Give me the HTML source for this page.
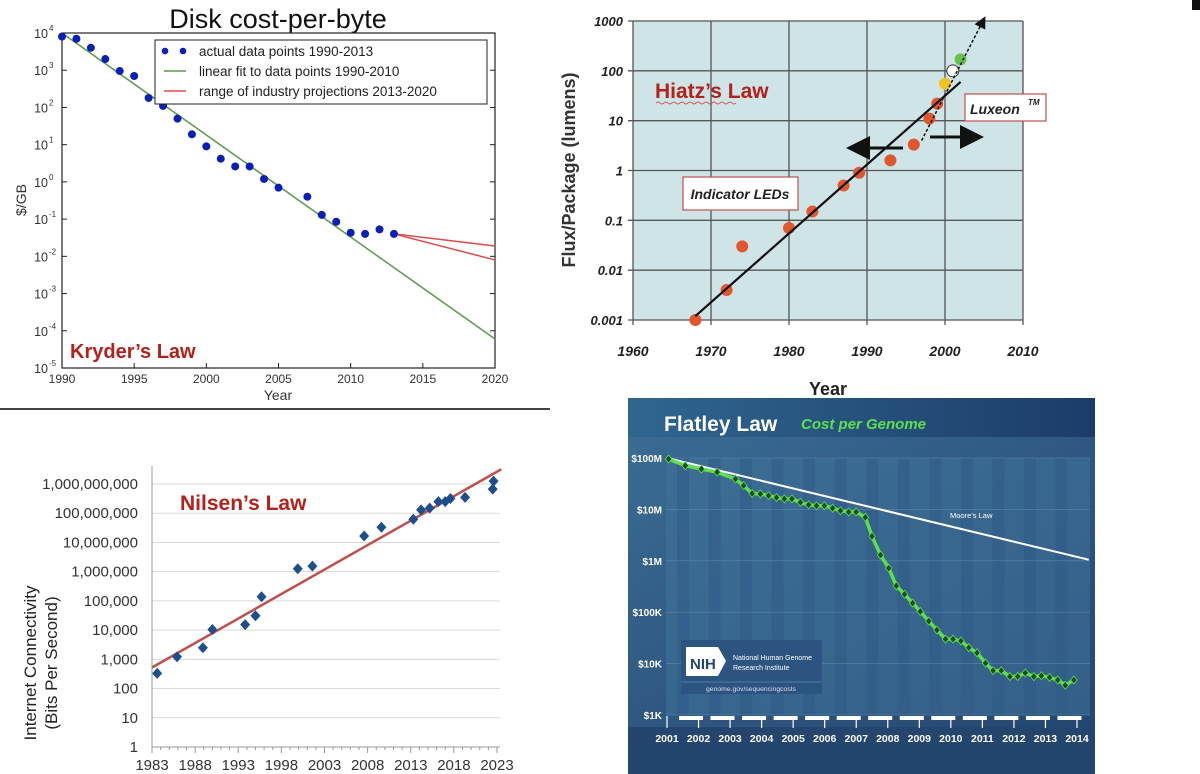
<!DOCTYPE html>
<html><head><meta charset="utf-8">
<style>
html,body{margin:0;padding:0;background:#fff;}
svg{display:block;font-family:"Liberation Sans",sans-serif;}
</style></head>
<body>
<svg id="root" width="1200" height="774" viewBox="0 0 1200 774" xmlns="http://www.w3.org/2000/svg">
  <defs>
    <linearGradient id="flatBg" x1="0" y1="0" x2="1" y2="1">
      <stop offset="0" stop-color="#3a6b93"/><stop offset="1" stop-color="#24466f"/>
    </linearGradient>
    <linearGradient id="flatHead" x1="0" y1="0" x2="1" y2="0">
      <stop offset="0" stop-color="#2f6690"/><stop offset="1" stop-color="#1c3c68"/>
    </linearGradient>
    <marker id="arrowHead" markerWidth="8" markerHeight="8" refX="6" refY="4" orient="auto"><path d="M0,0 L8,4 L0,8 Z" fill="#111"/></marker>
  </defs>
  <line x1="0" y1="409" x2="550" y2="409" stroke="#444" stroke-width="2"/>
  <g id="kryder"></g>
  <g id="hiatz"></g>
  <g id="nilsen"></g>
  <g id="flatley"></g>
</svg>
<script>
// ---------- Kryder data ----------
const kryderYears = [1990,1991,1992,1993,1994,1995,1996,1997,1998,1999,2000,2001,2002,2003,2004,2005,2007,2008,2009,2010,2011,2012,2013];
const kryderValues = [8000,7000,4000,2000,950,700,180,110,50,19,9,4.2,2.6,2.6,1.2,0.7,0.4,0.13,0.085,0.043,0.04,0.053,0.04];
const kryderFitYears = [1990,2020];
const kryderFitValues = [10000,0.00006];
const kryderProjYears = [2013,2020];
const kryderProjHigh = [0.04,0.019];
const kryderProjLow = [0.04,0.008];
const kryderXTicks = [1990,1995,2000,2005,2010,2015,2020];
const kryderYTicks = [4,3,2,1,0,-1,-2,-3,-4,-5];

// ---------- Hiatz data ----------
const hiatzYears = [1968,1972,1974,1980,1983,1987,1989,1993,1996,1998,1999];
const hiatzValues = [0.001,0.004,0.03,0.07,0.15,0.5,0.9,1.6,3.3,11,22];
const hiatzSpecialYears = [2000,2001,2002];
const hiatzSpecialValues = [55,100,170];
const hiatzFitYears = [1968,2002];
const hiatzFitValues = [0.0012,60];
const hiatzDashYears = [1997,2005];
const hiatzDashValues = [4,1100];
const hiatzXTicks = [1960,1970,1980,1990,2000,2010];
const hiatzYTicks = ["1000","100","10","1","0.1","0.01","0.001"];

// ---------- Nilsen data ----------
const nilsenYears = [1983.6,1985.9,1988.9,1990,1993.8,1995,1995.7,1999.9,2001.6,2007.6,2009.6,2013.3,2014.2,2015.2,2016.2,2017,2017.6,2019.3,2022.5,2022.6];
const nilsenValues = [330,1230,2500,10500,15400,31000,138000,1260000,1550000,16600000,33000000,62000000,130000000,150000000,250000000,250000000,320000000,350000000,670000000,1260000000];
const nilsenFitYears = [1983,2023.5];
const nilsenFitValues = [525,3200000000];
const nilsenXTicks = [1983,1988,1993,1998,2003,2008,2013,2018,2023];
const nilsenYTicks = ["1","10","100","1,000","10,000","100,000","1,000,000","10,000,000","100,000,000","1,000,000,000"];

// ---------- Flatley data ----------
const flatleyYears = [2001.05,2001.58,2002.09,2002.59,2003.17,2003.43,2003.70,2003.96,2004.22,2004.47,2004.72,2004.96,2005.23,2005.49,2005.74,2005.99,2006.25,2006.50,2006.76,2007.00,2007.29,2007.50,2007.77,2008.03,2008.27,2008.53,2008.79,2009.03,2009.30,2009.56,2009.83,2010.07,2010.32,2010.57,2010.83,2011.10,2011.34,2011.60,2011.87,2012.12,2012.36,2012.63,2012.87,2013.13,2013.39,2013.63,2013.90];
const flatleyValues = [95e6,71e6,61e6,53e6,39e6,29e6,20.4e6,20e6,18.5e6,17e6,16e6,16e6,13.7e6,12.3e6,11.8e6,11.8e6,10.6e6,9.4e6,8.9e6,8.9e6,7.0e6,3.0e6,1.3e6,720e3,325e3,224e3,150e3,103e3,67e3,45e3,30e3,30e3,27.7e3,20.4e3,16.3e3,10.2e3,7.3e3,7.3e3,5.6e3,5.6e3,6.6e3,5.6e3,5.8e3,5.4e3,4.8e3,3.8e3,4.8e3];
const mooreYears = [2001,2014.37];
const mooreValues = [100e6,1.05e6];
const flatleyXTicks = [2001,2002,2003,2004,2005,2006,2007,2008,2009,2010,2011,2012,2013,2014];
const flatleyYTicks = ["$1K","$10K","$100K","$1M","$10M","$100M"];

const NS="http://www.w3.org/2000/svg";
function mk(parent,tag,attrs,text){const e=document.createElementNS(NS,tag);for(const k in attrs)e.setAttribute(k,attrs[k]);if(text!==undefined)e.textContent=text;parent.appendChild(e);return e;}
function logScale(lo,hi,p0,p1){return v=>p0+(Math.log10(v)-lo)/(hi-lo)*(p1-p0);}
function linScale(d0,d1,p0,p1){return v=>p0+(v-d0)/(d1-d0)*(p1-p0);}

// ================= KRYDER =================
(function(){
const g=document.getElementById('kryder');
const x=linScale(1990,2020,62,495), y=logScale(-5,4,368,33);
let t=mk(g,'text',{x:278,y:28,'font-size':27,'text-anchor':'middle',fill:'#111'},'Disk cost-per-byte');


let r=mk(g,'rect',{x:62,y:33,width:433,height:335,fill:'#fff',stroke:'#222','stroke-width':1.2});


kryderYTicks.forEach(p=>{
  const yy=y(Math.pow(10,p));
  mk(g,'line',{x1:62,y1:yy,x2:67,y2:yy,stroke:'#222'});mk(g,'line',{x1:490,y1:yy,x2:495,y2:yy,stroke:'#222'});
  const tx=mk(g,'text',{x:48,y:yy+5,'font-size':12.5,'text-anchor':'end',fill:'#333'},'10');
  
  
  mk(g,'text',{x:49,y:yy-2,'font-size':8,fill:'#333'},String(p));
});
kryderXTicks.forEach(v=>{
  const xx=x(v);
  mk(g,'line',{x1:xx,y1:368,x2:xx,y2:363,stroke:'#222'});
  const tx=mk(g,'text',{x:xx,y:383,'font-size':12,'text-anchor':'middle',fill:'#333'},String(v));
  
  
});
t=mk(g,'text',{x:278,y:400,'font-size':14,'text-anchor':'middle',fill:'#333'},'Year');


t=mk(g,'text',{x:0,y:0,'font-size':14,'text-anchor':'middle',fill:'#333',transform:'translate(26,200) rotate(-90)'},'$/GB');


let fit=mk(g,'line',{x1:x(kryderFitYears[0]),y1:y(kryderFitValues[0]),x2:x(kryderFitYears[1]),y2:y(kryderFitValues[1]),stroke:'#5a9a4e','stroke-width':1.5});


[kryderProjHigh,kryderProjLow].forEach(arr=>{
  const l=mk(g,'line',{x1:x(kryderProjYears[0]),y1:y(arr[0]),x2:x(kryderProjYears[1]),y2:y(arr[1]),stroke:'#e04a4a','stroke-width':1.5});
  
  
});
kryderYears.forEach((yr,i)=>{
  const c=mk(g,'circle',{cx:x(yr),cy:y(kryderValues[i]),r:4,fill:'#0a1fb5'});
  
  
});
const lg=mk(g,'g',{});


mk(lg,'rect',{x:155,y:40,width:332,height:64,fill:'#fff',stroke:'#222','stroke-width':1});
mk(lg,'circle',{cx:165,cy:51,r:3.3,fill:'#0a1fb5'});mk(lg,'circle',{cx:183,cy:51,r:3.3,fill:'#0a1fb5'});
mk(lg,'line',{x1:164,y1:71,x2:186,y2:71,stroke:'#5a9a4e','stroke-width':1.5});
mk(lg,'line',{x1:164,y1:91,x2:186,y2:91,stroke:'#e04a4a','stroke-width':1.5});
['actual data points 1990-2013','linear fit to data points 1990-2010','range of industry projections 2013-2020'].forEach((s,i)=>{
  const tx=mk(lg,'text',{x:199,y:56+i*20,'font-size':13.5,fill:'#222'},s);
  
  
});
t=mk(g,'text',{x:70,y:358,'font-size':20,'font-weight':'bold',fill:'#b5201a'},'Kryder’s Law');


})();

// ================= HIATZ =================
(function(){
const g=document.getElementById('hiatz');
const x=linScale(1960,2010,633,1023), y=logScale(-3,3,320,21);
let r=mk(g,'rect',{x:633,y:21,width:390,height:299,fill:'#cfe4e7'});


hiatzYTicks.forEach(s=>{
  const yy=y(parseFloat(s));
  mk(g,'line',{x1:628,y1:yy,x2:1023,y2:yy,stroke:'#555','stroke-width':1.3});
  const tx=mk(g,'text',{x:623,y:yy+5,'font-size':13,'font-weight':'bold','font-style':'italic','text-anchor':'end',fill:'#222'},s);
  
  
});
hiatzXTicks.forEach(v=>{
  const xx=x(v);
  mk(g,'line',{x1:xx,y1:21,x2:xx,y2:325,stroke:'#555','stroke-width':1.3});
  const tx=mk(g,'text',{x:xx,y:356,'font-size':14,'font-weight':'bold','font-style':'italic','text-anchor':'middle',fill:'#222'},String(v));
  
  
});
let t=mk(g,'text',{x:828,y:395,'font-size':18,'font-weight':'bold','text-anchor':'middle',fill:'#222'},'Year');


t=mk(g,'text',{x:0,y:0,'font-size':18,'font-weight':'bold','text-anchor':'middle',fill:'#333',transform:'translate(575,170) rotate(-90)'},'Flux/Package (lumens)');


hiatzYears.forEach((yr,i)=>{
  const c=mk(g,'circle',{cx:x(yr),cy:y(hiatzValues[i]),r:6,fill:'#e0572f'});
  
  
});
const sc=['#f2c21c','#ffffff','#6bbf4e'];
hiatzSpecialYears.forEach((yr,i)=>{
  const c=mk(g,'circle',{cx:x(yr),cy:y(hiatzSpecialValues[i]),r:6,fill:sc[i],stroke:i==1?'#333':'none'});
  
  
});
let l=mk(g,'line',{x1:x(hiatzFitYears[0]),y1:y(hiatzFitValues[0]),x2:x(hiatzFitYears[1]),y2:y(hiatzFitValues[1]),stroke:'#111','stroke-width':2.2});


l=mk(g,'line',{x1:x(hiatzDashYears[0]),y1:y(hiatzDashValues[0]),x2:x(hiatzDashYears[1]),y2:y(hiatzDashValues[1]),stroke:'#111','stroke-width':1.5,'stroke-dasharray':'3,2','marker-end':'url(#arrowHead)'});


l=mk(g,'line',{x1:903,y1:148,x2:852,y2:148,stroke:'#111','stroke-width':3,'marker-end':'url(#arrowHead)'});


l=mk(g,'line',{x1:930,y1:137,x2:978,y2:137,stroke:'#111','stroke-width':3,'marker-end':'url(#arrowHead)'});


t=mk(g,'text',{x:655,y:98,'font-size':21,'font-weight':'bold',fill:'#b5201a'},'Hiatz’s Law');


mk(g,'path',{d:'M656,103 q2,-2 4,0 t4,0 t4,0 t4,0 t4,0 t4,0 t4,0 t4,0 t4,0 t4,0 t4,0 t4,0 t4,0 t4,0 t4,0 t4,0 t4,0 t4,0 t4,0 t4,0',fill:'none',stroke:'#d33','stroke-width':0.8});
r=mk(g,'rect',{x:683,y:177,width:115,height:33,fill:'#fff',stroke:'#c0504d','stroke-width':1.2});
t=mk(g,'text',{x:740,y:199,'font-size':14,'font-weight':'bold','font-style':'italic','text-anchor':'middle',fill:'#222'},'Indicator LEDs');


r=mk(g,'rect',{x:965,y:94,width:81,height:27,fill:'#fff',stroke:'#c0504d','stroke-width':1.2});
t=mk(g,'text',{x:970,y:114,'font-size':14,'font-weight':'bold','font-style':'italic',fill:'#222'},'Luxeon');


mk(g,'text',{x:1028,y:105,'font-size':8,'font-weight':'bold','font-style':'italic',fill:'#222'},'TM');
mk(g,'rect',{x:1192,y:0,width:8,height:10,fill:'#111'});
})();

// ================= NILSEN =================
(function(){
const g=document.getElementById('nilsen');
const x=linScale(1983,2023,152,497), y=logScale(0,9,747,484);
nilsenYTicks.forEach((s,i)=>{
  const yy=y(Math.pow(10,i));
  mk(g,'line',{x1:152,y1:yy,x2:500,y2:yy,stroke:'#d9d9d9','stroke-width':1});
  const tx=mk(g,'text',{x:138,y:yy+5,'font-size':15,'text-anchor':'end',fill:'#333'},s);
  
  
});
mk(g,'line',{x1:152,y1:466,x2:152,y2:747,stroke:'#999'});
mk(g,'line',{x1:152,y1:747,x2:500,y2:747,stroke:'#999'});
for(let v=1983;v<=2023;v++){const xx=x(v);mk(g,'line',{x1:xx,y1:747,x2:xx,y2:(v-1983)%5==0?753:750,stroke:'#999'});}
nilsenXTicks.forEach(v=>{
  const tx=mk(g,'text',{x:x(v),y:770,'font-size':15,'text-anchor':'middle',fill:'#333'},String(v));
  
  
});
let t=mk(g,'text',{x:0,y:0,'font-size':17,'text-anchor':'middle',fill:'#222',transform:'translate(36,663) rotate(-90)'},'Internet Connectivity');


t=mk(g,'text',{x:0,y:0,'font-size':17,'text-anchor':'middle',fill:'#222',transform:'translate(57,663) rotate(-90)'},'(Bits Per Second)');


let l=mk(g,'line',{x1:x(nilsenFitYears[0]),y1:y(nilsenFitValues[0]),x2:x(nilsenFitYears[1]),y2:y(nilsenFitValues[1]),stroke:'#c0504d','stroke-width':2.5});


nilsenYears.forEach((yr,i)=>{
  const cx=x(yr),cy=y(nilsenValues[i]);
  const p=mk(g,'path',{d:`M${cx},${cy-5.5} L${cx+5},${cy} L${cx},${cy+5.5} L${cx-5},${cy} Z`,fill:'#1f4e8c'});
  
  
});
t=mk(g,'text',{x:180,y:510,'font-size':21,'font-weight':'bold',fill:'#b5201a'},'Nilsen’s Law');


})();

// ================= FLATLEY =================
(function(){
const g=document.getElementById('flatley');
const x=linScale(2001,2014,667,1077), y=logScale(3,8,715,458);
let r=mk(g,'rect',{x:628,y:398,width:467,height:376,fill:'#24456e'});


mk(g,'rect',{x:628,y:398,width:467,height:39,fill:'url(#flatHead)'});
mk(g,'rect',{x:628,y:437,width:467,height:290,fill:'url(#flatBg)'});
mk(g,'rect',{x:666,y:458,width:424,height:257,fill:'#3f7198',opacity:0.6});
for(let v=2001;v<2014;v++){mk(g,'rect',{x:x(v)+10,y:458,width:12,height:257,fill:'#2e5a85',opacity:0.5});}
flatleyYTicks.forEach((s,i)=>{
  const yy=y(Math.pow(10,i+3));
  mk(g,'line',{x1:666,y1:yy,x2:1090,y2:yy,stroke:'#5b86ab','stroke-width':0.6});
  const tx=mk(g,'text',{x:662,y:yy+4,'font-size':10,'font-weight':'bold','text-anchor':'end',fill:'#fff'},s);
  
  
});
flatleyXTicks.forEach(v=>{
  const xx=x(v);
  if(v<2014) mk(g,'rect',{x:xx+12,y:716,width:24,height:4,fill:'#fff'});
  mk(g,'line',{x1:xx,y1:716,x2:xx,y2:728,stroke:'#fff','stroke-width':1.2});
  const tx=mk(g,'text',{x:xx,y:742,'font-size':10.5,'font-weight':'bold','text-anchor':'middle',fill:'#fff'},String(v));
  
  
});
let t=mk(g,'text',{x:664,y:431,'font-size':21,'font-weight':'bold',fill:'#fff'},'Flatley Law');


t=mk(g,'text',{x:801,y:429,'font-size':15,'font-weight':'bold','font-style':'italic',fill:'#5de04e'},'Cost per Genome');


let l=mk(g,'line',{x1:x(mooreYears[0]),y1:y(mooreValues[0]),x2:x(mooreYears[1]),y2:y(mooreValues[1]),stroke:'#fff','stroke-width':2});


t=mk(g,'text',{x:950,y:518,'font-size':7.5,fill:'#fff'},'Moore’s Law');


const pts=flatleyYears.map((yr,i)=>x(yr).toFixed(1)+','+y(flatleyValues[i]).toFixed(1)).join(' ');
l=mk(g,'polyline',{points:pts,fill:'none',stroke:'#5de04e','stroke-width':3.5,'stroke-linejoin':'round'});


flatleyYears.forEach((yr,i)=>{
  const cx=x(yr),cy=y(flatleyValues[i]);
  const p=mk(g,'path',{d:`M${cx},${cy-4} L${cx+3.3},${cy} L${cx},${cy+4} L${cx-3.3},${cy} Z`,fill:'#1d4a25',stroke:'#5de04e','stroke-width':0.8});
  
  
});
const nb=mk(g,'g',{});


mk(nb,'rect',{x:681,y:640,width:141,height:54,fill:'#2b5580'});
mk(nb,'line',{x1:681,y1:682,x2:822,y2:682,stroke:'#4f7aa3'});
mk(nb,'path',{d:'M686,647 L718,647 L726,661 L718,676 L686,676 Z',fill:'#fff'});
mk(nb,'text',{x:690,y:669,'font-size':15,'font-weight':'bold',fill:'#24456e'},'NIH');
mk(nb,'text',{x:733,y:660,'font-size':7,fill:'#fff'},'National Human Genome');
mk(nb,'text',{x:733,y:670,'font-size':7,fill:'#fff'},'Research Institute');
mk(nb,'text',{x:751,y:691,'font-size':6.8,'text-anchor':'middle',fill:'#dde'},'genome.gov/sequencingcosts');
})();
</script>
</body></html>
